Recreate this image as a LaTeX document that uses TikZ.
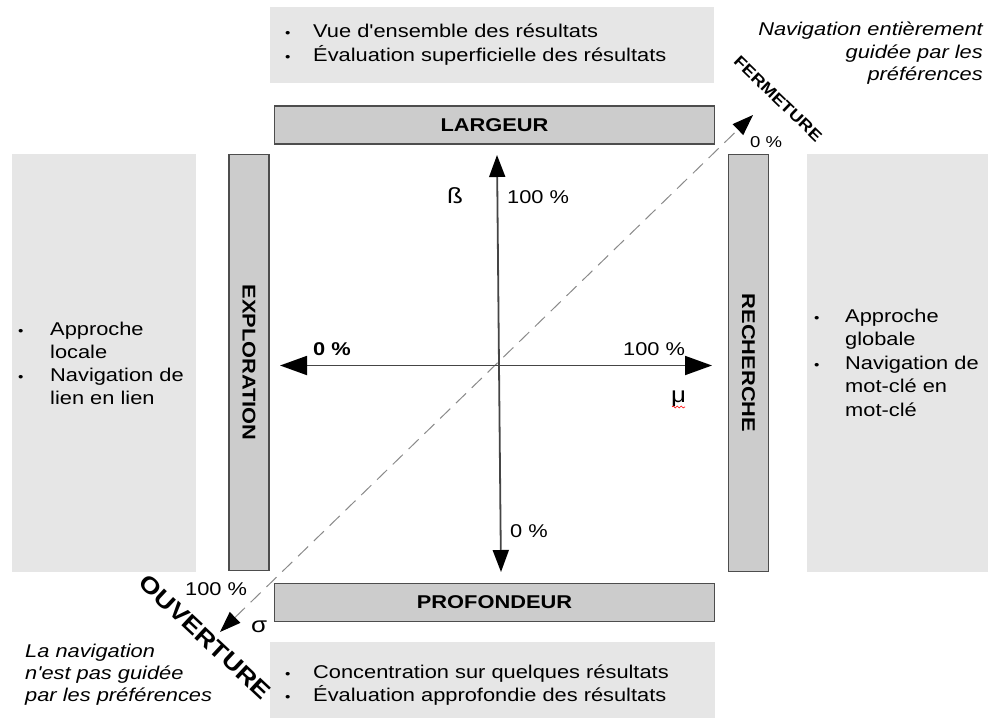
\documentclass[tikz,border=0pt]{standalone}
\usepackage{fontspec}
\newfontfamily\lsans{Liberation Sans}[FakeStretch=1.18]
\usetikzlibrary{arrows.meta,decorations.pathmorphing}
\definecolor{panelgray}{HTML}{E6E6E6}
\definecolor{boxgray}{HTML}{CCCCCC}
\definecolor{boxedge}{HTML}{4D4D4D}
\definecolor{axisgray}{HTML}{454545}
\definecolor{dashgray}{HTML}{8A8A8A}
\newcommand\fs{\lsans\fontsize{18.5}{23}\selectfont}
\newcommand\fsmall{\lsans\fontsize{15.7}{18}\selectfont}
\newcommand\fbul{\lsans\fontsize{13}{23}\selectfont}
\newcommand\fgreek{\lsans\fontsize{22}{23}\selectfont}
\begin{document}
\begin{tikzpicture}[x=1pt,y=-1pt,
  panel/.style={fill=panelgray,draw=none},
  labelbox/.style={fill=boxgray,draw=boxedge,line width=1.5pt,font=\fs\bfseries,inner sep=0pt},
  txt/.style={anchor=base west,inner sep=0pt,font=\fs},
  itxt/.style={inner sep=0pt,font=\fs\itshape},
  bul/.style={anchor=base west,inner sep=0pt,font=\fbul},
  axis/.style={draw=axisgray,line width=1.8pt},
  htip/.style={-{Triangle[length=27pt,width=19pt,color=black]}},
  vtip/.style={-{Triangle[length=22pt,width=16pt,color=black]}},
  diag/.style={draw=dashgray,line width=1pt,dash pattern=on 14pt off 8pt}
]
\useasboundingbox (0,0) rectangle (988,718);
% panels
\path[panel] (270,7) rectangle (714,83);
\path[panel] (12,154) rectangle (196,572);
\path[panel] (807,154) rectangle (988,572);
\path[panel] (270,642) rectangle (715,718);

% diagonal dashed arrow
\coordinate (dlo) at (220,632);
\coordinate (dhi) at (753,115);
\draw[diag,{Triangle[length=21pt,width=15pt,color=black]}-{Triangle[length=21pt,width=15pt,color=black]}] (dlo) -- (dhi);

% label boxes
\node[labelbox,minimum width=440pt,minimum height=38pt] (largeur) at (494.5,125) {LARGEUR};
\node[labelbox,minimum width=440pt,minimum height=38pt] (profondeur) at (494.5,602.5) {PROFONDEUR};
\node[labelbox,minimum width=416pt,minimum height=40pt,rotate=-90] (exploration) at (249,362.5) {EXPLORATION};
\node[labelbox,minimum width=417pt,minimum height=40pt,rotate=-90] (recherche) at (748.5,363) {RECHERCHE};

% axes
\coordinate (vtop) at (497,155);
\coordinate (vbot) at (501,572);
\coordinate (hleft) at (280,365.5);
\coordinate (hright) at (712,365.5);
\coordinate (vmid) at (499,365.5);
\draw[axis,htip] (vmid) -- (hleft);
\draw[axis,htip] (vmid) -- (hright);
\draw[axis,vtip] (vmid) -- (vtop);
\draw[axis,vtip] (vmid) -- (vbot);

% axis labels
\node[txt,font=\fs\bfseries] (h0) at (313,355) {0 \%};
\node[txt] (h100) at (623,355) {100 \%};
\node[txt,font=\fgreek] (mu) at (671,402) {μ};
\draw[red,line width=0.6pt,decorate,decoration={snake,amplitude=1pt,segment length=4pt}] (672,407) -- (685,407);
\node[txt,font=\fgreek] (beta) at (447,203) {ß};
\node[txt] (v100) at (507,203) {100 \%};
\node[txt] (v0) at (510,537) {0 \%};
\node[txt] (d100) at (185,595) {100 \%};
\node[txt,font=\fgreek] (sigma) at (251,632) {σ};
\node[anchor=base west,inner sep=0pt,font=\fsmall] (d0) at (750,147) {0 \%};
\node[inner sep=0pt,font=\fsmall\bfseries,rotate=-44] (ferm) at (778,99) {FERMETURE};
\node[inner sep=0pt,font=\lsans\fontsize{23}{26}\selectfont\bfseries,rotate=-43] (ouv) at (205,637) {OUVERTURE};

% italic notes
\node[itxt,anchor=base east] (n1) at (983,35) {Navigation entièrement};
\node[itxt,anchor=base east] (n2) at (983,58) {guidée par les};
\node[itxt,anchor=base east] (n3) at (983,80) {préférences};
\node[itxt,anchor=base west] (m1) at (25,657) {La navigation};
\node[itxt,anchor=base west] (m2) at (25,679) {n'est pas guidée};
\node[itxt,anchor=base west] (m3) at (25,701) {par les préférences};

% top list
\node[bul] (tb1) at (285,37.5) {•};
\node[txt] (t1) at (313,37.5) {Vue d'ensemble des résultats};
\node[bul] (tb2) at (285,61) {•};
\node[txt] (t2) at (313,61) {Évaluation superficielle des résultats};

% bottom list
\node[bul] (bb1) at (285,678) {•};
\node[txt] (b1) at (313,678) {Concentration sur quelques résultats};
\node[bul] (bb2) at (285,701) {•};
\node[txt] (b2) at (313,701) {Évaluation approfondie des résultats};

% left list
\node[bul] (lb1) at (18,335) {•};
\node[txt] (l1) at (50,335) {Approche};
\node[txt] (l2) at (50,358) {locale};
\node[bul] (lb2) at (18,381) {•};
\node[txt] (l3) at (50,381) {Navigation de};
\node[txt] (l4) at (50,404) {lien en lien};

% right list
\node[bul] (rb1) at (814,322) {•};
\node[txt] (r1) at (845,322) {Approche};
\node[txt] (r2) at (845,345.5) {globale};
\node[bul] (rb2) at (814,369) {•};
\node[txt] (r3) at (845,369) {Navigation de};
\node[txt] (r4) at (845,392.5) {mot-clé en};
\node[txt] (r5) at (845,416) {mot-clé};
\end{tikzpicture}
\end{document}
